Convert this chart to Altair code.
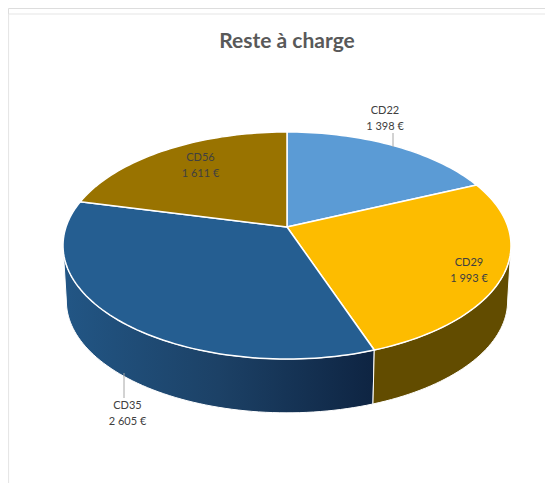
import math
import altair as alt

# ---- chart values ----
TITLE = "Reste à charge"
categories = ["CD22", "CD29", "CD35", "CD56"]
amounts = [1398, 1993, 2605, 1611]
top_colors = ["#5b9bd5", "#fdbc00", "#255e91", "#997300"]

# ---- layout of the drawing (page pixels) ----
MARGIN = 8
W, H = 537, 475
APEX_X, APEX_Y = 287, 227
RX, RY, PERSP = 221, 110.5, 0.163
ELL_CY, WALL_CY, WALL_SCALE = 245.5, 301, 0.985
label_pos = {"CD22": (385, 111), "CD29": (469, 263), "CD35": (127.5, 406), "CD56": (200.5, 158)}
line_gap = 16
leaders = [("CD22", 393, 133, 147), ("CD35", 124, 373, 398)]


def top_pt(deg):
    t = math.radians(deg)
    u, v = math.sin(t), math.cos(t)
    d = 1 + PERSP * v
    return APEX_X + RX * u / d, APEX_Y - RY * v / d


def low_pt(deg):
    x, y = top_pt(deg)
    return APEX_X + WALL_SCALE * (x - APEX_X), WALL_CY + WALL_SCALE * (y - ELL_CY)


def arc(fn, a, b):
    n = max(2, int(abs(b - a) / 1.5))
    return [fn(a + (b - a) * i / n) for i in range(n + 1)]


x_scale = alt.Scale(domain=[MARGIN, MARGIN + W], range=[0, W], nice=False, zero=False)
y_scale = alt.Scale(domain=[MARGIN, MARGIN + H], range=[0, H], nice=False, zero=False)
X = alt.X("x:Q", scale=x_scale, axis=None)
Y = alt.Y("y:Q", scale=y_scale, axis=None)


def polygon(points, fill, stroke="#ffffff", sw=1.5):
    pts = points + [points[0]]
    rows = [{"x": p[0], "y": p[1], "i": i} for i, p in enumerate(pts)]
    return (
        alt.Chart(alt.Data(values=rows))
        .mark_line(fill=fill, stroke=stroke, strokeWidth=sw, strokeJoin="round")
        .encode(x=X, y=Y, order=alt.Order("i:Q"))
    )


total = sum(amounts)
angles = [0]
for v in amounts:
    angles.append(angles[-1] + 360 * v / total)

tangent_right = math.degrees(math.acos(-PERSP))
tangent_left = 360 - tangent_right

layers = []
# side walls
b1, b2 = angles[2], tangent_left
wall_35 = arc(top_pt, b1, b2) + arc(low_pt, b2, b1)
layers.append(
    polygon(
        wall_35,
        alt.Gradient(
            gradient="linear", x1=0, x2=1, y1=0, y2=0,
            stops=[
                alt.GradientStop(color="#225685", offset=0),
                alt.GradientStop(color="#1c4166", offset=0.5),
                alt.GradientStop(color="#0e2442", offset=1),
            ],
        ),
        sw=1,
    )
)
wall_29 = arc(top_pt, tangent_right, angles[2]) + arc(low_pt, angles[2], tangent_right)
layers.append(polygon(wall_29, "#624c00", sw=1))

# top faces
for i, c in enumerate(top_colors):
    pts = [(APEX_X, APEX_Y)] + arc(top_pt, angles[i], angles[i + 1])
    layers.append(polygon(pts, c))

# leader lines
for name, lx, y0, y1 in leaders:
    rows = [{"x": lx, "y": y0, "i": 0}, {"x": lx, "y": y1, "i": 1}]
    layers.append(
        alt.Chart(alt.Data(values=rows))
        .mark_line(stroke="#a6a6a6", strokeWidth=1)
        .encode(x=X, y=Y, order=alt.Order("i:Q"))
    )

# labels
text_rows = []
for name, v in zip(categories, amounts):
    lx, ly = label_pos[name]
    text_rows.append({"x": lx, "y": ly, "t": name})
    text_rows.append({"x": lx, "y": ly + line_gap, "t": f"{v:,}".replace(",", " ") + " €"})
layers.append(
    alt.Chart(alt.Data(values=text_rows))
    .mark_text(font="Lato", fontSize=11, color="#404040", align="center", baseline="middle")
    .encode(x=X, y=Y, text="t:N")
)

# title
layers.append(
    alt.Chart(alt.Data(values=[{"x": 287, "y": 42, "t": TITLE}]))
    .mark_text(font="Lato", fontSize=21, fontWeight="bold", color="#595959", align="center", baseline="middle")
    .encode(x=X, y=Y, text="t:N")
)

# chart frame
for rows in (
    [{"x": MARGIN + 0.5, "y": 14, "i": 0}, {"x": MARGIN + W, "y": 14, "i": 1}],
    [{"x": MARGIN + 0.5, "y": 14, "i": 0}, {"x": MARGIN + 0.5, "y": MARGIN + H, "i": 1}],
):
    layers.append(
        alt.Chart(alt.Data(values=rows))
        .mark_line(stroke="#e6e6e6", strokeWidth=1.2)
        .encode(x=X, y=Y, order=alt.Order("i:Q"))
    )

chart = (
    alt.layer(*layers)
    .properties(width=W, height=H, padding=0, autosize=alt.AutoSizeParams(type="none"))
    .configure_view(stroke=None)
    .configure(background="#ffffff")
)
chart.save("out.html", embed_options={"renderer": "svg", "actions": False})
